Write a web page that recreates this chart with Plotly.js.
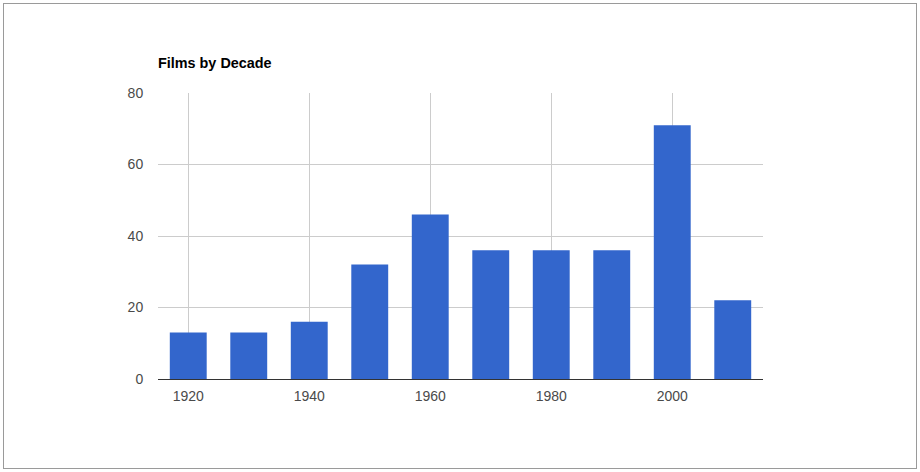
<!DOCTYPE html>
<html>
<head>
<meta charset="utf-8">
<script src="https://cdn.plot.ly/plotly-3.0.1.min.js"></script>
<style>
html,body{margin:0;padding:0;background:#fff;}
#wrap{position:relative;width:920px;height:472px;}
#chart{width:920px;height:472px;}
#frame{position:absolute;left:3px;top:3px;width:912px;height:464px;border:1px solid #9a9a9a;pointer-events:none;}
</style>
</head>
<body>
<div id="wrap"><div id="chart"></div><div id="frame"></div></div>
<script>
const decades = [1920, 1930, 1940, 1950, 1960, 1970, 1980, 1990, 2000, 2010];
const films = [13, 13, 16, 32, 46, 36, 36, 36, 71, 22];
const titleText = "Films by Decade";
const yTicks = [0, 20, 40, 60, 80];
const xTicks = [1920, 1940, 1960, 1980, 2000];

const trace = {
  type: 'bar',
  x: decades,
  y: films,
  width: 6.1,
  marker: {color: '#3366cc'},
  hoverinfo: 'x+y'
};

const layout = {
  width: 920, height: 472,
  margin: {l: 158, r: 157, t: 93, b: 93},
  paper_bgcolor: '#fff', plot_bgcolor: '#fff',
  showlegend: false,
  font: {family: 'Arial, "Liberation Sans", sans-serif', size: 14, color: '#444'},
  title: {
    text: '<b>' + titleText + '</b>',
    font: {family: 'Arial, "Liberation Sans", sans-serif', size: 14.4, color: '#000'},
    xref: 'paper', x: 0, xanchor: 'left',
    yref: 'container', y: 1 - 63/472, yanchor: 'middle'
  },
  xaxis: {
    range: [1915, 2015],
    tickmode: 'array',
    tickvals: xTicks,
    ticktext: xTicks.map(String),
    showgrid: true, gridcolor: '#cccccc', gridwidth: 1,
    showline: true, linecolor: '#333333', linewidth: 1,
    zeroline: false,
    ticks: 'outside', ticklen: 4, tickcolor: 'rgba(0,0,0,0)',
    tickfont: {size: 14, color: '#4a4a4a'},
    fixedrange: true
  },
  yaxis: {
    range: [0, 80],
    tickmode: 'array',
    tickvals: yTicks,
    ticktext: yTicks.map(String),
    showgrid: true, gridcolor: '#cccccc', gridwidth: 1,
    showline: false, zeroline: false,
    ticks: 'outside', ticklen: 11, tickcolor: 'rgba(0,0,0,0)',
    tickfont: {size: 14, color: '#4a4a4a'},
    fixedrange: true
  }
};

Plotly.newPlot('chart', [trace], layout, {displayModeBar: false, staticPlot: true});
</script>
</body>
</html>
